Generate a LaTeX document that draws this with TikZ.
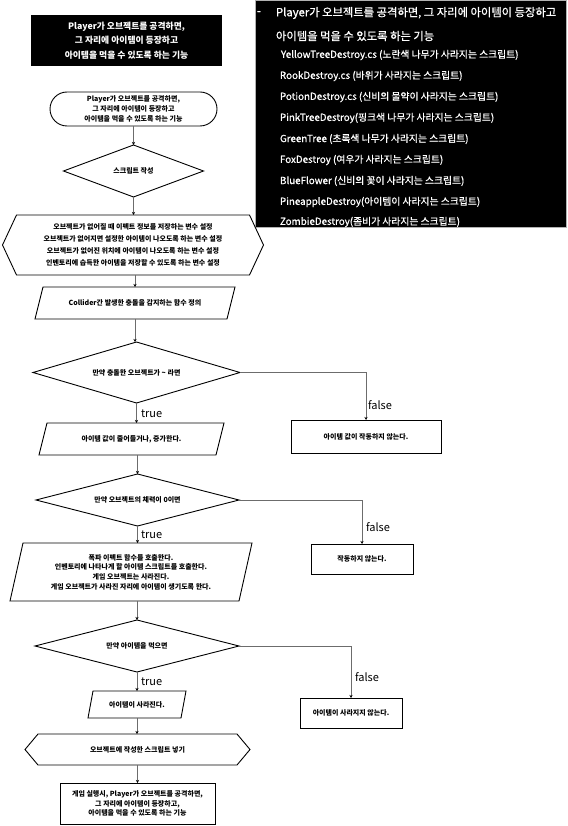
\documentclass[tikz,border=0pt]{standalone}
\usepackage{fontspec}
\setmainfont{Noto Sans CJK KR}
\newfontfamily\notefont{Noto Sans CJK KR}[FakeBold=0.8]
\usetikzlibrary{calc,arrows.meta}

% outlines drawn around named rectangular text holders
\newcommand\pgramoutline[2]{\draw[outline] ($(#1.north west)+(#2,0)$) -- (#1.north east) -- ($(#1.south east)-(#2,0)$) -- (#1.south west) -- cycle;}
\newcommand\hexoutline[2]{\draw[outline] (#1.west) -- ($(#1.north west)+(#2,0)$) -- ($(#1.north east)-(#2,0)$) -- (#1.east) -- ($(#1.south east)-(#2,0)$) -- ($(#1.south west)+(#2,0)$) -- cycle;}
\newcommand\diaoutline[1]{\draw[outline] (#1.west) -- (#1.north) -- (#1.east) -- (#1.south) -- cycle;}

\begin{document}
\begin{tikzpicture}[x=1pt,y=-1pt,
  every node/.style={inner sep=0pt,outer sep=0pt},
  wh/.style 2 args={minimum width=#1,minimum height=#2},
  flowtext/.style={font=\bfseries\fontsize{7}{9.7}\selectfont,align=center},
  outline/.style={draw=black,line width=0.9pt},
  link/.style={draw=gray!85!black,line width=0.6pt,-{Stealth[black,length=3pt,width=3pt]}},
  branchlabel/.style={font=\fontsize{11}{13}\selectfont,anchor=west},
  notehead/.style={text=white,font=\notefont\fontsize{11.3}{13}\selectfont,anchor=west},
  noteitem/.style={text=white,font=\notefont\fontsize{9.8}{11}\selectfont,anchor=west},
]
\useasboundingbox (0,0) rectangle (567,826);
\fill[white] (0,0) rectangle (567,826);

% ---- title block ----
\node[fill=black,wh={191}{51},text=white,align=center,
      font=\bfseries\fontsize{8.8}{14.5}\selectfont] (title) at (126.5,40.5)
  {Player가 오브젝트를 공격하면,\\그 자리에 아이템이 등장하고\\아이템을 먹을 수 있도록 하는 기능};

% ---- script list ----
\node[fill=black,draw=gray!60,line width=0.6pt,wh={311}{227}] (notes) at (410.5,113.5) {};
\node[notehead] (dash) at (257,13) {-};
\node[notehead] (head1) at (276,13) {Player가 오브젝트를 공격하면, 그 자리에 아이템이 등장하고};
\node[notehead] (head2) at (276,36) {아이템을 먹을 수 있도록 하는 기능};
\node[noteitem] (s1) at (281,55) {YellowTreeDestroy.cs (노란색 나무가 사라지는 스크립트)};
\node[noteitem] (s2) at (280,76) {RookDestroy.cs (바위가 사라지는 스크립트)};
\node[noteitem] (s3) at (280,97) {PotionDestroy.cs (신비의 물약이 사라지는 스크립트)};
\node[noteitem] (s4) at (280,118) {PinkTreeDestroy(핑크색 나무가 사라지는 스크립트)};
\node[noteitem] (s5) at (280,139) {GreenTree (초록색 나무가 사라지는 스크립트)};
\node[noteitem] (s6) at (280,160) {FoxDestroy (여우가 사라지는 스크립트)};
\node[noteitem] (s7) at (280,181) {BlueFlower (신비의 꽃이 사라지는 스크립트)};
\node[noteitem] (s8) at (280,202) {PineappleDestroy(아이템이 사라지는 스크립트)};
\node[noteitem] (s9) at (280,222) {ZombieDestroy(좀비가 사라지는 스크립트)};

% ---- flowchart: text holders ----
\node[flowtext,wh={167}{34}] (start) at (133.5,109)
  {Player가 오브젝트를 공격하면,\\그 자리에 아이템이 등장하고\\아이템을 먹을 수 있도록 하는 기능};
\node[flowtext,wh={140}{52}] (write) at (133.5,171) {스크립트 작성};
\node[flowtext,wh={261}{60},font=\bfseries\fontsize{7}{12}\selectfont] (vars) at (133,245)
  {오브젝트가 없어질 때 이펙트 정보를 저장하는 변수 설정\\
   오브젝트가 없어지면 설정한 아이템이 나오도록 하는 변수 설정\\
   오브젝트가 없어진 위치에 아이템이 나오도록 하는 변수 설정\\
   인벤토리에 습득한 아이템을 저장할 수 있도록 하는 변수 설정};
\node[flowtext,wh={200}{32}] (collide) at (135,303) {Collider간 발생한 충돌을 감지하는 함수 정의};
\node[flowtext,wh={207}{61}] (ifhit) at (136.5,372.5) {만약 충돌한 오브젝트가 \textasciitilde{} 라면};
\node[flowtext,wh={185}{32}] (change) at (131.5,439) {아이템 값이 줄어들거나, 증가한다.};
\node[flowtext,wh={150}{33}] (nochange) at (366,436.5) {아이템 값이 작동하지 않는다.};
\node[flowtext,wh={203}{52}] (ifzero) at (137.5,500) {만약 오브젝트의 체력이 0이면};
\node[flowtext,wh={242}{58}] (destroy) at (131,572)
  {폭파 이펙트 함수를 호출한다.\\
   인벤토리에 나타나게 할 아이템 스크립트를 호출한다.\\
   게임 오브젝트는 사라진다.\\
   게임 오브젝트가 사라진 자리에 아이템이 생기도록 한다.};
\node[flowtext,wh={102}{30}] (idle) at (362,559) {작동하지 않는다.};
\node[flowtext,wh={204}{52}] (ifeat) at (137,646) {만약 아이템을 먹으면};
\node[flowtext,wh={98}{27}] (vanish) at (137,704.5) {아이템이 사라진다.};
\node[flowtext,wh={102}{30}] (stay) at (351,713) {아이템이 사라지지 않는다.};
\node[flowtext,wh={225}{31}] (attach) at (137.5,749.5) {오브젝트에 작성한 스크립트 넣기};
\node[flowtext,wh={155}{41}] (result) at (137.5,803.5)
  {게임 실행시, Player가 오브젝트를 공격하면,\\그 자리에 아이템이 등장하고,\\아이템을 먹을 수 있도록 하는 기능};

% ---- flowchart: outlines ----
\draw[outline,rounded corners=17pt] (start.north west) rectangle (start.south east);
\diaoutline{write}
\hexoutline{vars}{14}
\pgramoutline{collide}{8}
\diaoutline{ifhit}
\pgramoutline{change}{8}
\draw[outline] (nochange.north west) rectangle (nochange.south east);
\diaoutline{ifzero}
\pgramoutline{destroy}{13}
\draw[outline] (idle.north west) rectangle (idle.south east);
\diaoutline{ifeat}
\pgramoutline{vanish}{5}
\draw[outline] (stay.north west) rectangle (stay.south east);
\hexoutline{attach}{13}
\draw[outline] (result.north west) rectangle (result.south east);

% ---- connectors ----
\draw[link] (start.south) -- (write.north);
\draw[link] (write.south) -- (write.south |- vars.north);
\draw[link] (vars.south -| collide.north) -- (collide.north);
\draw[link] (collide.south) -- (collide.south |- ifhit.north);
\draw[link] (ifhit.south) -- (ifhit.south |- change.north);
\draw[link] (ifhit.east) -| (nochange.north);
\draw[link] (change.south -| ifzero.north) -- (ifzero.north);
\draw[link] (ifzero.south) -- (ifzero.south |- destroy.north);
\draw[link] (ifzero.east) -| (idle.north);
\draw[link] (destroy.south -| ifeat.north) -- (ifeat.north);
\draw[link] (ifeat.south) -- (vanish.north);
\draw[link] (ifeat.east) -| (stay.north);
\draw[link] (vanish.south) -- (vanish.south |- attach.north);
\draw[link] (attach.south) -- (result.north);

% ---- branch labels ----
\node[branchlabel] (t1) at (141,414) {true};
\node[branchlabel] (f1) at (368,405) {false};
\node[branchlabel] (t2) at (141,535) {true};
\node[branchlabel] (f2) at (366,527) {false};
\node[branchlabel] (t3) at (141,682) {true};
\node[branchlabel] (f3) at (355,677) {false};
\end{tikzpicture}
\end{document}
